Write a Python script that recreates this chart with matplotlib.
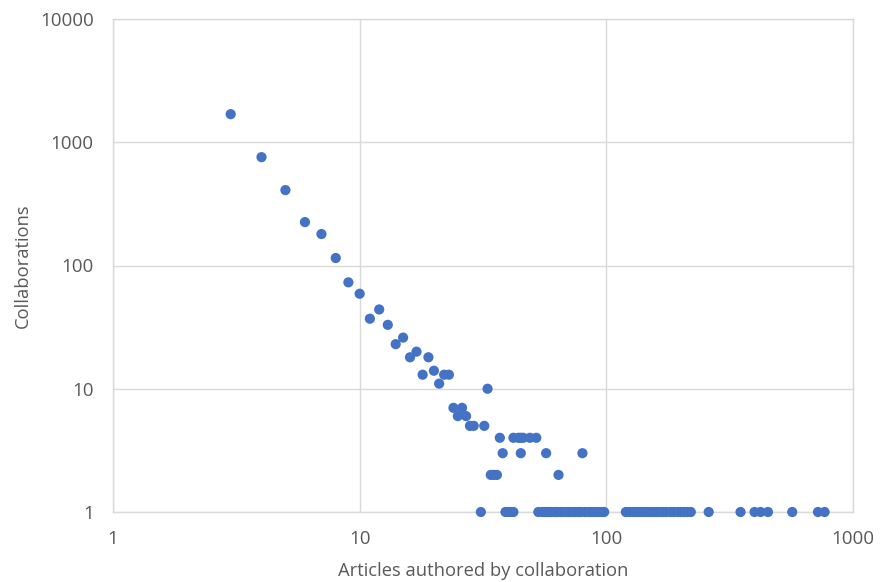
import matplotlib
matplotlib.use("Agg")
import matplotlib.pyplot as plt
from matplotlib.ticker import FixedLocator, FixedFormatter, NullLocator

# articles authored by a collaboration -> number of collaborations
articles = [3, 4, 5, 6, 7, 8, 9, 10, 11, 12, 13, 14, 15, 16, 17, 18, 19, 20,
            21, 22, 23, 24, 25, 26, 27, 28, 29, 32, 33, 34, 35, 36, 37, 38,
            42, 44, 45, 46, 49, 52, 45, 57, 64, 80]
collabs = [1690, 757, 409, 225, 180, 115, 73, 59, 37, 44, 33, 23, 26, 18, 20, 13, 18, 14,
           11, 13, 13, 7, 6, 7, 6, 5, 5, 5, 10, 2, 2, 2, 4, 3,
           4, 4, 4, 4, 4, 4, 3, 3, 2, 3]

# collaborations with a single article-count (y = 1)
singles = [31, 39, 40, 41, 42,
           53, 55, 56, 57, 58, 59, 60, 62, 63, 65, 66, 68, 70, 71, 73, 75, 77, 79,
           82, 85, 87, 89, 91, 94, 96, 98,
           120, 124, 128, 131, 135, 138, 142, 146, 150, 155, 160, 165, 170, 175,
           182, 188, 195, 200, 206, 213, 220,
           260, 350, 399, 422, 452, 567, 721, 767]
single_counts = [1] * len(singles)

x_ticks = [1, 10, 100, 1000]
y_ticks = [1, 10, 100, 1000, 10000]

BLUE = "#4472c4"
GRID = "#d9d9d9"
TXT = "#595959"

plt.rcParams["font.family"] = ["Open Sans", "DejaVu Sans"]

fig = plt.figure(figsize=(8.86, 5.82), dpi=100)
ax = fig.add_axes([113 / 886, 1 - 512 / 582, (853 - 113) / 886, (512 - 19) / 582])

ax.scatter(articles + singles, collabs + single_counts, s=54, color=BLUE,
           edgecolors="none", zorder=3, clip_on=False)

ax.set_xscale("log")
ax.set_yscale("log")
ax.set_xlim(1, 1000)
ax.set_ylim(1, 10000)
ax.xaxis.set_major_locator(FixedLocator(x_ticks))
ax.xaxis.set_major_formatter(FixedFormatter([str(v) for v in x_ticks]))
ax.yaxis.set_major_locator(FixedLocator(y_ticks))
ax.yaxis.set_major_formatter(FixedFormatter([str(v) for v in y_ticks]))
ax.xaxis.set_minor_locator(NullLocator())
ax.yaxis.set_minor_locator(NullLocator())

ax.grid(True, color=GRID, lw=1.0, zorder=0)
for sp in ax.spines.values():
    sp.set_color(GRID)
    sp.set_linewidth(1.0)
ax.tick_params(length=0, labelsize=13.5, labelcolor=TXT)
ax.tick_params(axis="x", pad=13)
ax.tick_params(axis="y", pad=14)

ax.set_xlabel("Articles authored by collaboration", fontsize=13.2, color=TXT, labelpad=10)
ax.set_ylabel("Collaborations", fontsize=13.2, color=TXT, labelpad=6)

fig.savefig("out.png", dpi=100)
